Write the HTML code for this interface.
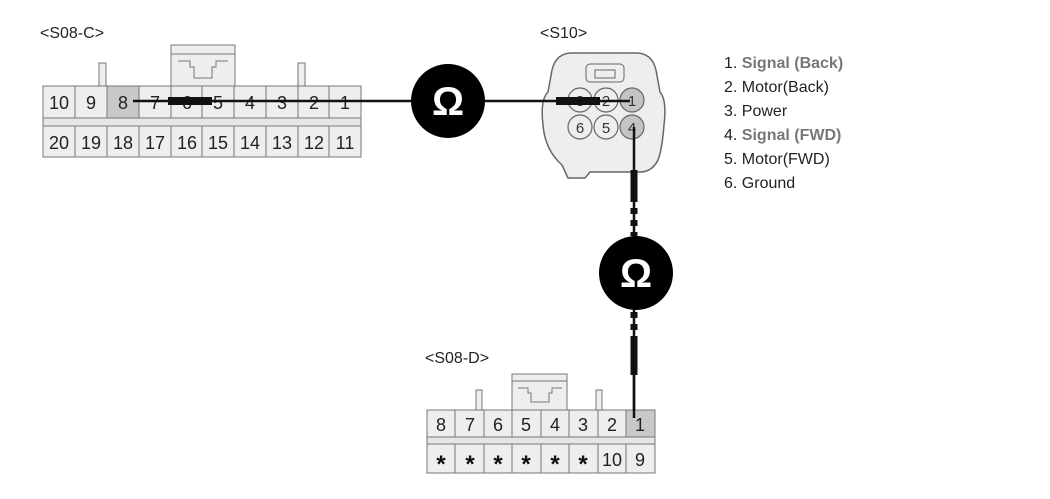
<!DOCTYPE html>
<html><head><style>
body{margin:0;background:#fff;}
svg{display:block;font-family:"Liberation Sans",Arial,sans-serif;}
</style></head><body>
<svg width="1050" height="499" viewBox="0 0 1050 499">
<g font-size="16" fill="#222">
<text x="40" y="38">&lt;S08-C&gt;</text>
<text x="540" y="38">&lt;S10&gt;</text>
<text x="425" y="363">&lt;S08-D&gt;</text>
</g>
<!-- S08-C -->
<g stroke="#777" stroke-width="1" fill="#eee">
<rect x="171" y="45" width="64" height="41"/>
<line x1="171" y1="54" x2="235" y2="54"/>
<path d="M178 61 H190 V67 H194 V78 H212 V67 H216 V61 H228" fill="none"/>
<rect x="99" y="63" width="7" height="23"/>
<rect x="298" y="63" width="7" height="23"/>
<rect x="43" y="86" width="318" height="71"/>
<rect x="43" y="118" width="318" height="8" fill="#e6e6e6"/>
<rect x="107" y="86" width="32" height="32" fill="#c8c8c8"/>
</g>
<g stroke="#777">
<line x1="75" y1="86" x2="75" y2="118"/><line x1="107" y1="86" x2="107" y2="118"/><line x1="139" y1="86" x2="139" y2="118"/><line x1="171" y1="86" x2="171" y2="118"/><line x1="202" y1="86" x2="202" y2="118"/><line x1="234" y1="86" x2="234" y2="118"/><line x1="266" y1="86" x2="266" y2="118"/><line x1="298" y1="86" x2="298" y2="118"/><line x1="329" y1="86" x2="329" y2="118"/>
<line x1="75" y1="126" x2="75" y2="157"/><line x1="107" y1="126" x2="107" y2="157"/><line x1="139" y1="126" x2="139" y2="157"/><line x1="171" y1="126" x2="171" y2="157"/><line x1="202" y1="126" x2="202" y2="157"/><line x1="234" y1="126" x2="234" y2="157"/><line x1="266" y1="126" x2="266" y2="157"/><line x1="298" y1="126" x2="298" y2="157"/><line x1="329" y1="126" x2="329" y2="157"/>
</g>
<g font-size="18" fill="#222" text-anchor="middle">
<text x="59" y="109">10</text><text x="91" y="109">9</text><text x="123" y="109">8</text><text x="155" y="109">7</text><text x="187" y="109">6</text><text x="218" y="109">5</text><text x="250" y="109">4</text><text x="282" y="109">3</text><text x="314" y="109">2</text><text x="345" y="109">1</text>
<text x="59" y="149">20</text><text x="91" y="149">19</text><text x="123" y="149">18</text><text x="155" y="149">17</text><text x="187" y="149">16</text><text x="218" y="149">15</text><text x="250" y="149">14</text><text x="282" y="149">13</text><text x="314" y="149">12</text><text x="345" y="149">11</text>
</g>
<!-- S10 -->
<path d="M572 53 H636 Q652 53 656 70 L660 92 Q667 100 664 125 Q662 150 658 160 Q652 172 640 172 L590 172 L585 178 H568 L562 165 Q545 150 543 125 Q540 100 548 92 L552 70 Q556 53 572 53 Z" fill="#eee" stroke="#666" stroke-width="1.5"/>
<rect x="586" y="64" width="38" height="18" rx="4" fill="#eee" stroke="#666"/>
<rect x="595" y="70" width="20" height="8" fill="#eee" stroke="#666"/>
<g stroke="#666" stroke-width="1.2">
<circle cx="580" cy="100" r="12" fill="#eee"/><circle cx="606" cy="100" r="12" fill="#eee"/><circle cx="632" cy="100" r="12" fill="#c4c4c4"/>
<circle cx="580" cy="127" r="12" fill="#eee"/><circle cx="606" cy="127" r="12" fill="#eee"/><circle cx="632" cy="127" r="12" fill="#c4c4c4"/>
</g>
<g font-size="15" fill="#333" text-anchor="middle">
<text x="580" y="106">3</text><text x="606" y="106">2</text><text x="632" y="106">1</text>
<text x="580" y="133">6</text><text x="606" y="133">5</text><text x="632" y="133">4</text>
</g>
<!-- wires -->
<line x1="133" y1="101" x2="630" y2="101" stroke="#111" stroke-width="2.5"/>
<rect x="168" y="97" width="44" height="8" fill="#111"/>
<rect x="556" y="97" width="44" height="8" fill="#111"/>
<line x1="634" y1="127" x2="634" y2="410" stroke="#111" stroke-width="2.5"/>
<line x1="634" y1="170" x2="634" y2="236" stroke="#111" stroke-width="7" stroke-dasharray="32,6,6,6,6,6"/>
<line x1="634" y1="312" x2="634" y2="375" stroke="#111" stroke-width="7" stroke-dasharray="6,6,6,6,40"/>
<circle cx="448" cy="101" r="37" fill="#000"/>
<text x="448" y="115" font-size="40" font-weight="bold" fill="#fff" text-anchor="middle">Ω</text>
<circle cx="636" cy="273" r="37" fill="#000"/>
<text x="636" y="287" font-size="40" font-weight="bold" fill="#fff" text-anchor="middle">Ω</text>
<!-- S08-D -->
<g stroke="#777" fill="#eee">
<rect x="512" y="374" width="55" height="36"/>
<line x1="512" y1="381" x2="567" y2="381"/>
<path d="M518 388 H528 V393 H531 V402 H549 V393 H552 V388 H562" fill="none"/>
<rect x="476" y="390" width="6" height="20"/>
<rect x="596" y="390" width="6" height="20"/>
<rect x="427" y="410" width="228" height="63"/>
<rect x="427" y="437" width="228" height="7" fill="#e6e6e6"/>
<rect x="626" y="410" width="29" height="27" fill="#c8c8c8"/>
<line x1="455" y1="410" x2="455" y2="437"/><line x1="484" y1="410" x2="484" y2="437"/><line x1="512" y1="410" x2="512" y2="437"/><line x1="541" y1="410" x2="541" y2="437"/><line x1="569" y1="410" x2="569" y2="437"/><line x1="598" y1="410" x2="598" y2="437"/>
<line x1="455" y1="444" x2="455" y2="473"/><line x1="484" y1="444" x2="484" y2="473"/><line x1="512" y1="444" x2="512" y2="473"/><line x1="541" y1="444" x2="541" y2="473"/><line x1="569" y1="444" x2="569" y2="473"/><line x1="598" y1="444" x2="598" y2="473"/><line x1="626" y1="444" x2="626" y2="473"/>
</g>
<line x1="634" y1="375" x2="634" y2="418" stroke="#111" stroke-width="2.5"/>
<g font-size="18" fill="#222" text-anchor="middle">
<text x="441" y="431">8</text><text x="470" y="431">7</text><text x="498" y="431">6</text><text x="526" y="431">5</text><text x="555" y="431">4</text><text x="583" y="431">3</text><text x="612" y="431">2</text><text x="640" y="431">1</text>
<text x="612" y="466">10</text><text x="640" y="466">9</text>
</g>
<g font-size="24" font-weight="bold" fill="#111" text-anchor="middle">
<text x="441" y="472">*</text><text x="470" y="472">*</text><text x="498" y="472">*</text><text x="526" y="472">*</text><text x="555" y="472">*</text><text x="583" y="472">*</text>
</g>
<!-- legend -->
<g font-size="16" fill="#222">
<text x="724" y="68">1. <tspan fill="#777" font-weight="bold">Signal (Back)</tspan></text>
<text x="724" y="92">2. Motor(Back)</text>
<text x="724" y="116">3. Power</text>
<text x="724" y="140">4. <tspan fill="#777" font-weight="bold">Signal (FWD)</tspan></text>
<text x="724" y="164">5. Motor(FWD)</text>
<text x="724" y="188">6. Ground</text>
</g>
</svg>
</body></html>
